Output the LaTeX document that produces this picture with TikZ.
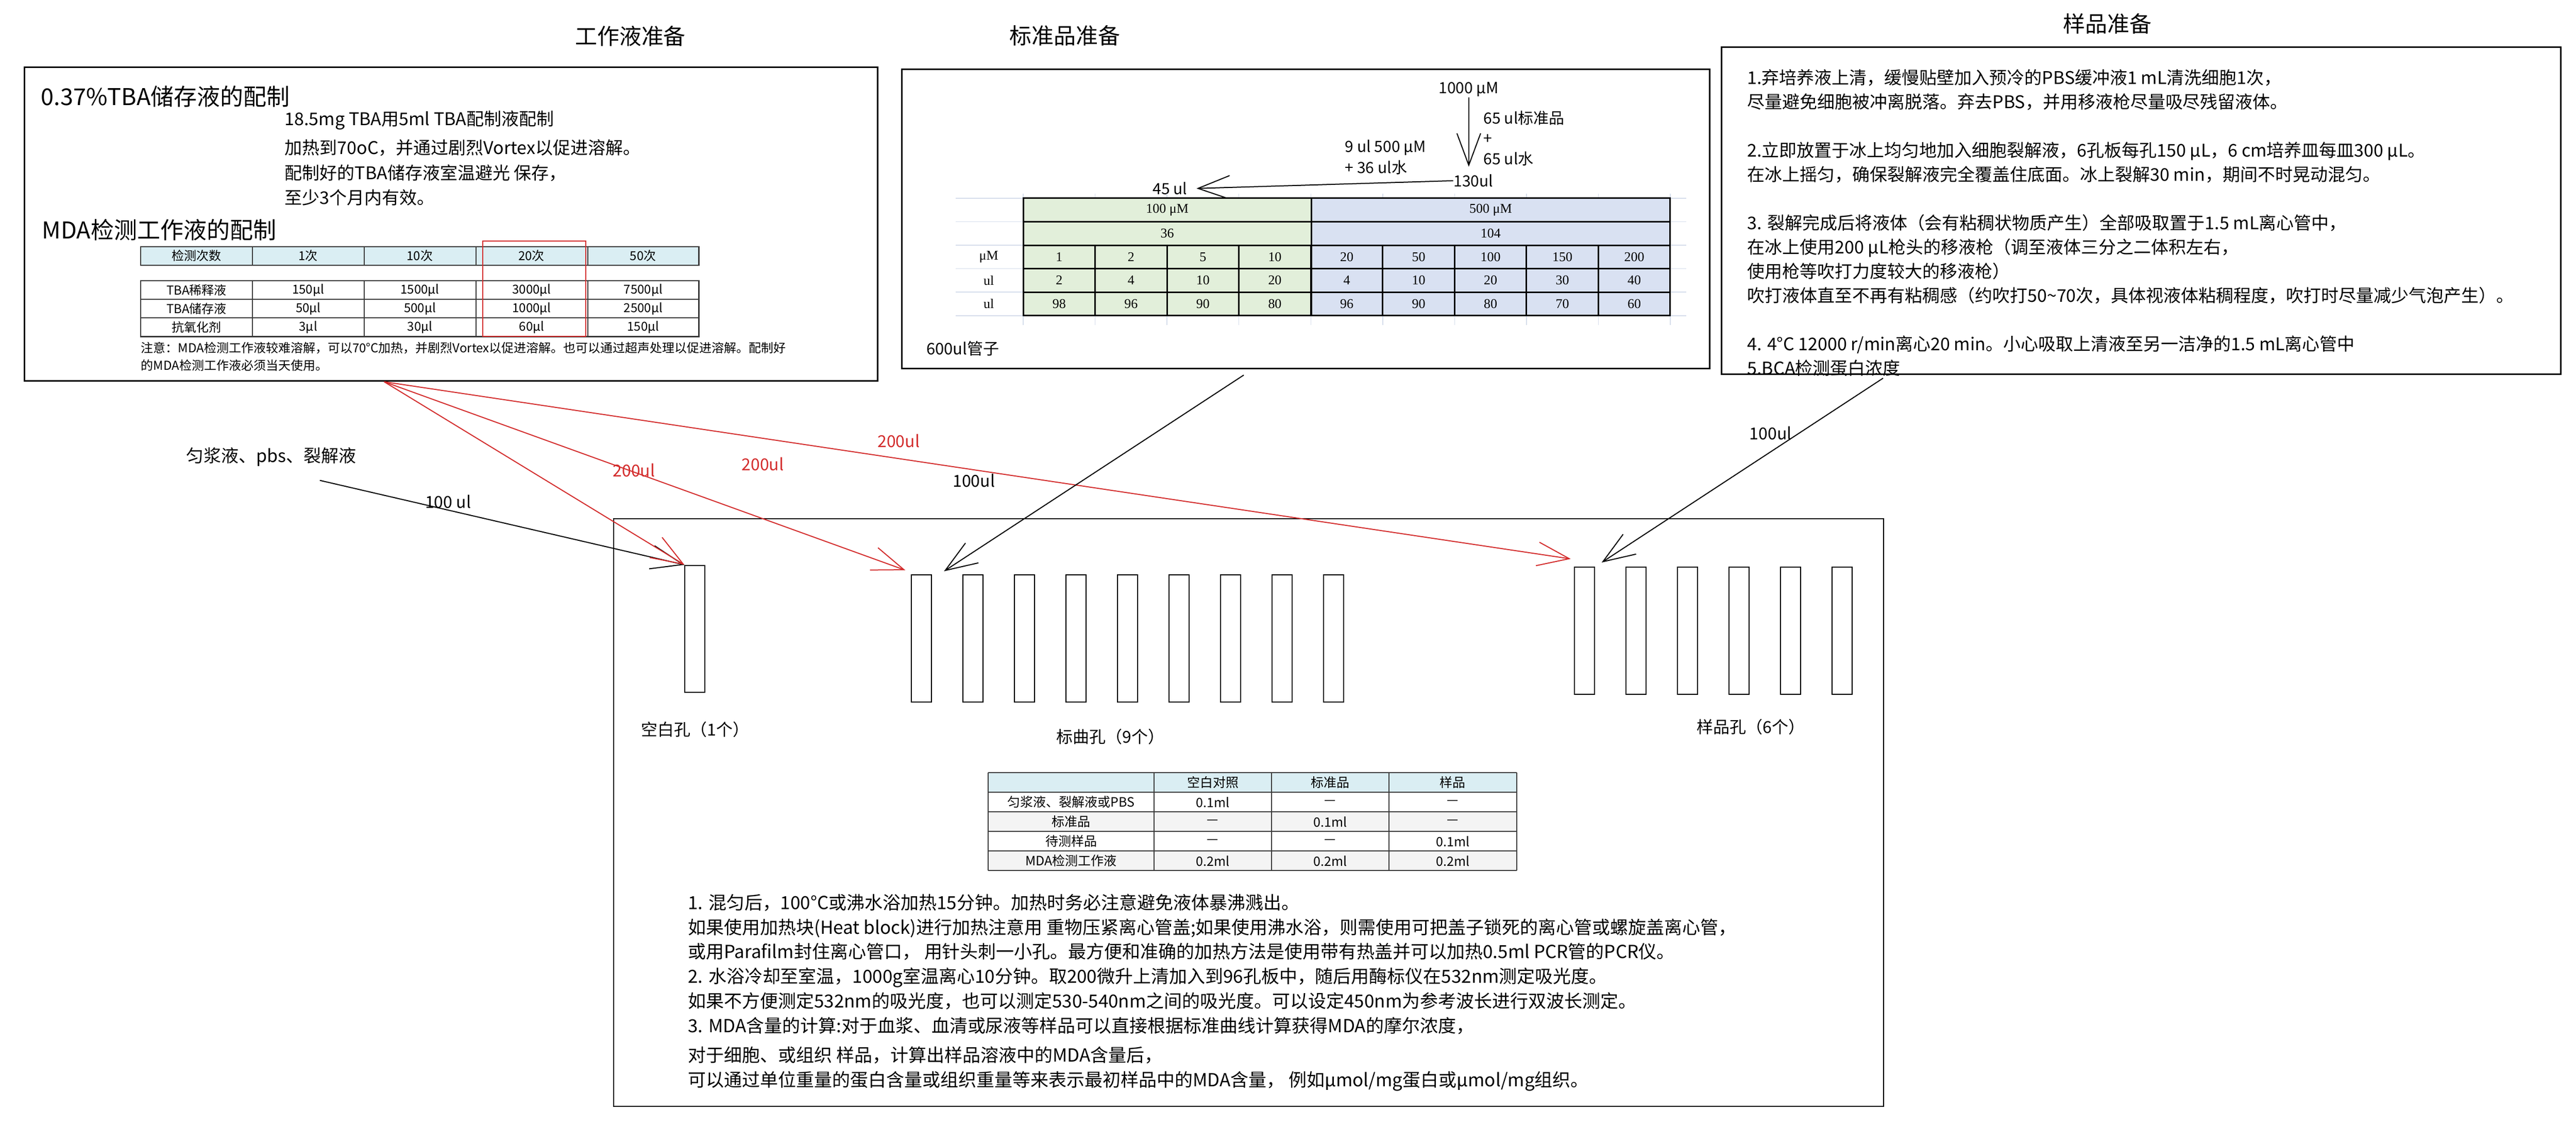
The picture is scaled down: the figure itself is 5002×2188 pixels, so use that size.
\documentclass[tikz,border=0pt]{standalone}
\usepackage{fontspec}
\setmainfont{Noto Sans CJK SC}
\newfontfamily\tabserif{Liberation Serif}
\usepackage{xcolor}
\definecolor{colorArrow}{RGB}{211,44,44}
\definecolor{colorHead}{HTML}{DAEEF3}
\definecolor{colorLow}{HTML}{E2EFDA}
\definecolor{colorHigh}{HTML}{D9E1F2}
\definecolor{colorGrid}{HTML}{D5DDEB}
\definecolor{colorShade}{HTML}{F4F4F4}
\definecolor{colorRule}{HTML}{3A3A3A}
\usetikzlibrary{arrows.meta, positioning}
\newcommand{\sizeTitle}{\fontsize{21.5}{26}\selectfont}
\newcommand{\sizeHead}{\fontsize{22.5}{27}\selectfont}
\newcommand{\sizeBody}{\fontsize{17}{23.5}\selectfont}
\newcommand{\sizeMid}{\fontsize{15}{20}\selectfont}
\newcommand{\sizeLabel}{\fontsize{16}{19}\selectfont}
\newcommand{\sizeCell}{\fontsize{12}{14}\selectfont}
\tikzset{well/.style={draw, inner sep=0pt, minimum width=19.5pt, minimum height=123.5pt}}

\begin{document}
\begin{tikzpicture}[x=0.5pt, y=-0.5pt, >={Straight Barb[length=31pt, width=23pt]}, line width=1pt,
  panel/.style={draw, line width=1.5pt, inner sep=0pt},
  tcell/.style={inner sep=0pt, font=\sizeCell},
  ncell/.style={inner sep=0pt, font=\tabserif\fontsize{13}{15}\selectfont},
  txt/.style={inner sep=0pt, anchor=north west, align=left}]
\useasboundingbox (0,0) rectangle (5002,2188);

\node[panel, minimum width=828pt, minimum height=304.5pt] (work) at (876,435.5) {};
\node[panel, minimum width=784.5pt, minimum height=290.5pt] (std) at (2535.5,425.5) {};
\node[panel, minimum width=814.5pt, minimum height=317.5pt] (smp) at (4157.5,409.5) {};
\node[draw, inner sep=0pt, minimum width=1233pt, minimum height=571pt] (plate) at (2424,1578) {};

\node[font=\sizeTitle] (tWork) at (1224,70) {工作液准备};
\node[font=\sizeTitle] (tStd) at (2068,69) {标准品准备};
\node[font=\sizeTitle] (tSmp) at (4092,46) {样品准备};

\node[font=\sizeHead, anchor=west, inner sep=0pt] (hTBA) at (79,187) {0.37\%TBA储存液的配制};
\node[txt, font={\fontsize{17}{24.25}\selectfont}] (bTBA) at (552,214) {18.5mg TBA用5ml TBA配制液配制\\[3.75pt]加热到70oC，并通过剧烈Vortex以促进溶解。\\配制好的TBA储存液室温避光 保存，\\至少3个月内有效。};
\node[font=\sizeHead, anchor=west, inner sep=0pt] (hMDA) at (81,446) {MDA检测工作液的配制};

\fill[colorHead] (273,479) rectangle (1357,515);
\draw[colorRule, line width=1.25pt] (273,479) rectangle (1357,515);
\draw[colorRule, line width=1.25pt] (273,545) rectangle (1357,654);
\foreach \x in {490,707,924,1141} {
  \draw[colorRule] (\x,479) -- (\x,515);
  \draw[colorRule] (\x,545) -- (\x,654);
}
\foreach \y in {581,617} \draw[colorRule] (273,\y) -- (1357,\y);
\foreach \lab [count=\i] in {检测次数,1次,10次,20次,50次}
  \node[tcell] (h\i) at ({273+216.8*(\i-0.5)},497) {\lab};
\foreach \ca/\cb/\cc/\cd/\ce [count=\j] in {TBA稀释液/150μl/1500μl/3000μl/7500μl, TBA储存液/50μl/500μl/1000μl/2500μl, 抗氧化剂/3μl/30μl/60μl/150μl} {
  \node[tcell] (ra\j) at (381.5,{527+36.3*\j}) {\ca};
  \node[tcell] (rb\j) at (598.5,{527+36.3*\j}) {\cb};
  \node[tcell] (rc\j) at (815.5,{527+36.3*\j}) {\cc};
  \node[tcell] (rd\j) at (1032.5,{527+36.3*\j}) {\cd};
  \node[tcell] (re\j) at (1249,{527+36.3*\j}) {\ce};
}
\draw[colorArrow] (937,468) rectangle (1137,653);
\node[txt, font={\fontsize{12}{17}\selectfont}] (nMDA) at (273,663) {注意：MDA检测工作液较难溶解，可以70°C加热，并剧烈Vortex以促进溶解。也可以通过超声处理以促进溶解。配制好\\的MDA检测工作液必须当天使用。};

\node[font=\sizeMid, inner sep=0pt] (n1000) at (2852,174) {1000 μM};
\node[txt, font={\fontsize{15}{19.75}\selectfont}] (nAdd) at (2880,214) {65 ul标准品\\+\\65 ul水};
\node[txt, font={\fontsize{15}{20.5}\selectfont}] (nDil) at (2611,271) {9 ul 500 μM\\+ 36 ul水};
\node[font=\sizeMid, inner sep=0pt] (n130) at (2861,351) {130ul};
\node[font=\sizeMid, inner sep=0pt] (n45) at (2272,366) {45 ul};
\node[font={\fontsize{15.5}{18}\selectfont}, anchor=west, inner sep=0pt] (n600) at (1798,677) {600ul管子};
\draw[->] (n1000.south) -- ([yshift=7pt]n130.north -| n1000.south);
\draw[->] (n130.west) -- ([xshift=8.5pt]n45.east);

\foreach \y in {385,430.6,476.2,521.8,567.4,613} \draw[colorGrid, line width=0.75pt] (1856,\y) -- (3274,\y);
\foreach \i in {0,...,9} \draw[colorGrid, line width=0.75pt] ({1987+139.56*\i},376) -- ({1987+139.56*\i},631);
\fill[colorLow] (1987,385) rectangle (2546,613);
\fill[colorHigh] (2546,385) rectangle (3243,613);
\draw[line width=1.5pt] (1987,385) rectangle (3243,613);
\foreach \y in {430.6,476.2,521.8,567.4} \draw[line width=1.5pt] (1987,\y) -- (3243,\y);
\draw[line width=1.5pt] (2546,385) -- (2546,613);
\foreach \i in {1,...,8} \draw[line width=1.5pt] ({1987+139.56*\i},476.2) -- ({1987+139.56*\i},613);
\node[ncell] (lo) at (2266.5,407.8) {100 μM};
\node[ncell] (hi) at (2894.5,407.8) {500 μM};
\node[ncell] (loV) at (2266.5,453.4) {36};
\node[ncell] (hiV) at (2894.5,453.4) {104};
\node[ncell] (kMu) at (1920,499) {μM};
\node[ncell] (kStd) at (1920,544.6) {ul};
\node[ncell] (kWat) at (1920,590.2) {ul};
\foreach \ca/\cb/\cc [count=\i] in {1/2/98, 2/4/96, 5/10/90, 10/20/80, 20/4/96, 50/10/90, 100/20/80, 150/30/70, 200/40/60} {
  \node[ncell] (c\i) at ({1987+139.56*(\i-0.5)},499) {\ca};
  \node[ncell] (v\i) at ({1987+139.56*(\i-0.5)},544.6) {\cb};
  \node[ncell] (w\i) at ({1987+139.56*(\i-0.5)},590.2) {\cc};
}

\node[txt, font=\sizeBody] (bSmp) at (3392,134) {1.弃培养液上清，缓慢贴壁加入预冷的PBS缓冲液1 mL清洗细胞1次，\\尽量避免细胞被冲离脱落。弃去PBS，并用移液枪尽量吸尽残留液体。\\[23.5pt]2.立即放置于冰上均匀地加入细胞裂解液，6孔板每孔150 μL，6 cm培养皿每皿300 μL。\\在冰上摇匀，确保裂解液完全覆盖住底面。冰上裂解30 min，期间不时晃动混匀。\\[23.5pt]3. 裂解完成后将液体（会有粘稠状物质产生）全部吸取置于1.5 mL离心管中，\\在冰上使用200 μL枪头的移液枪（调至液体三分之二体积左右，\\使用枪等吹打力度较大的移液枪）\\吹打液体直至不再有粘稠感（约吹打50\textasciitilde70次，具体视液体粘稠程度，吹打时尽量减少气泡产生）。\\[23.5pt]4. 4°C 12000 r/min离心20 min。小心吸取上清液至另一洁净的1.5 mL离心管中\\5.BCA检测蛋白浓度};

\node[well] (blank) at (1349.5,1221.5) {};
\node[well] (s1) at (1789.5,1240) {};
\node[well, right=29.5pt of s1] (s2) {};
\node[well, right=29.5pt of s2] (s3) {};
\node[well, right=29.5pt of s3] (s4) {};
\node[well, right=29.5pt of s4] (s5) {};
\node[well, right=29.5pt of s5] (s6) {};
\node[well, right=29.5pt of s6] (s7) {};
\node[well, right=29.5pt of s7] (s8) {};
\node[well, right=29.5pt of s8] (s9) {};
\node[well] (p1) at (3076.5,1225) {};
\node[well, right=29.5pt of p1] (p2) {};
\node[well, right=29.5pt of p2] (p3) {};
\node[well, right=29.5pt of p3] (p4) {};
\node[well, right=29.5pt of p4] (p5) {};
\node[well, right=29.5pt of p5] (p6) {};
\node[font=\sizeLabel] (lBlank) at (1350,1417) {空白孔（1个）};
\node[font=\sizeLabel] (lStd) at (2156,1431) {标曲孔（9个）};
\node[font=\sizeLabel] (lSmp) at (3400,1412) {样品孔（6个）};

\fill[colorHead] (1919,1501) rectangle (2945,1539);
\fill[colorShade] (1919,1577) rectangle (2945,1615);
\fill[colorShade] (1919,1653) rectangle (2945,1691);
\foreach \y in {1501,1539,...,1691} \draw[colorRule] (1919,\y) -- (2945,\y);
\foreach \x in {1919,2241,2469,2697,2945} \draw[colorRule] (\x,1501) -- (\x,1691);
\foreach \ca/\cb/\cc/\cd [count=\j] in { /空白对照/标准品/样品, 匀浆液、裂解液或PBS/0.1ml/—/—, 标准品/—/0.1ml/—, 待测样品/—/—/0.1ml, MDA检测工作液/0.2ml/0.2ml/0.2ml} {
  \node[tcell, font=\fontsize{12.5}{15}\selectfont] (ga\j) at (2080,{1482+38*\j}) {\ca};
  \node[tcell, font=\fontsize{12.5}{15}\selectfont] (gb\j) at (2355,{1482+38*\j}) {\cb};
  \node[tcell, font=\fontsize{12.5}{15}\selectfont] (gc\j) at (2583,{1482+38*\j}) {\cc};
  \node[tcell, font=\fontsize{12.5}{15}\selectfont] (gd\j) at (2821,{1482+38*\j}) {\cd};
}

\node[txt, font={\fontsize{17.5}{24}\selectfont}] (bPlate) at (1335,1735) {1. 混匀后，100°C或沸水浴加热15分钟。加热时务必注意避免液体暴沸溅出。\\如果使用加热块(Heat block)进行加热注意用 重物压紧离心管盖;如果使用沸水浴，则需使用可把盖子锁死的离心管或螺旋盖离心管，\\或用Parafilm封住离心管口， 用针头刺一小孔。最方便和准确的加热方法是使用带有热盖并可以加热0.5ml PCR管的PCR仪。\\2. 水浴冷却至室温，1000g室温离心10分钟。取200微升上清加入到96孔板中，随后用酶标仪在532nm测定吸光度。\\如果不方便测定532nm的吸光度，也可以测定530-540nm之间的吸光度。可以设定450nm为参考波长进行双波长测定。\\3. MDA含量的计算:对于血浆、血清或尿液等样品可以直接根据标准曲线计算获得MDA的摩尔浓度，\\[4.5pt]对于细胞、或组织 样品，计算出样品溶液中的MDA含量后，\\可以通过单位重量的蛋白含量或组织重量等来表示最初样品中的MDA含量， 例如μmol/mg蛋白或μmol/mg组织。};

\node[font=\sizeBody] (lys) at (527,887) {匀浆液、pbs、裂解液};
\coordinate (lysOut) at (621,933);
\coordinate (workOut) at ([xshift=-65pt]work.south);
\draw[->] (lysOut) -- (blank.north west);
\draw[->, colorArrow] (workOut) -- (blank.north west);
\draw[->, colorArrow] (workOut) -- ([shift={(-11,-8)}]s1.north west);
\draw[->, colorArrow] (workOut) -- ([shift={(-6,-15)}]p1.north west);
\draw[->] ([shift={(-120.5,11)}]std.south) -- ([shift={(23,-6)}]s1.north east);
\draw[->] ([shift={(315,6)}]smp.south west) -- ([shift={(13,-8)}]p1.north east);
\node[font=\sizeLabel] (a100a) at (870,974) {100 ul};
\node[font=\sizeLabel, text=colorArrow] (a200a) at (1231,913) {200ul};
\node[font=\sizeLabel, text=colorArrow] (a200b) at (1481,901) {200ul};
\node[font=\sizeLabel, text=colorArrow] (a200c) at (1745,856) {200ul};
\node[font=\sizeLabel] (a100b) at (1891,933) {100ul};
\node[font=\sizeLabel] (a100c) at (3438,841) {100ul};
\end{tikzpicture}
\end{document}
